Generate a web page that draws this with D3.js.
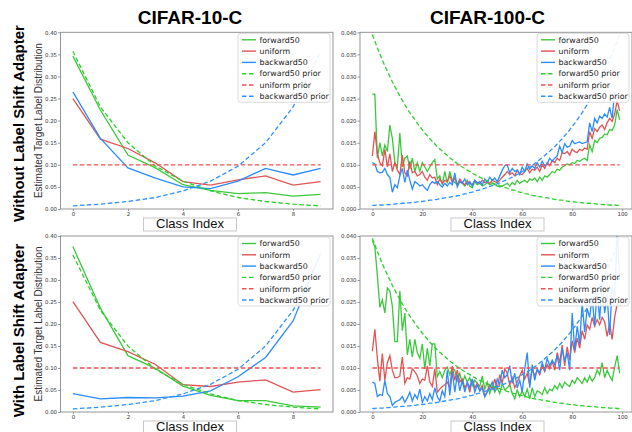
<!DOCTYPE html>
<html>
<head>
<meta charset="utf-8">
<script src="https://d3js.org/d3.v7.min.js"></script>
<style>
  body { margin: 0; background: #fff; }
  svg { display: block; }
</style>
</head>
<body>
<svg width="632" height="432"></svg>
<script>
// ---- data ----
const seriesNames = ["forward50", "uniform", "backward50", "forward50 prior", "uniform prior", "backward50 prior"];
const colTitles = ["CIFAR-10-C", "CIFAR-100-C"];
const rowTitles = ["Without Label Shift Adapter", "With Label Shift Adapter"];
const yTitle = "Estimated Target Label Distribution";
const xTitle = "Class Index";

const c10Classes = [0, 1, 2, 3, 4, 5, 6, 7, 8, 9];
const c10Ticks = [0, 2, 4, 6, 8];
const c10YTicks = [0, 0.05, 0.10, 0.15, 0.20, 0.25, 0.30, 0.35, 0.40];
const c100Ticks = [0, 20, 40, 60, 80, 100];
const c100YTicks = [0, 0.005, 0.010, 0.015, 0.020, 0.025, 0.030, 0.035, 0.040];

// CIFAR-10-C priors
const c10FwdPrior = [0.357, 0.231, 0.150, 0.097, 0.063, 0.041, 0.026, 0.017, 0.011, 0.007];
const c10UniPrior = [0.1, 0.1, 0.1, 0.1, 0.1, 0.1, 0.1, 0.1, 0.1, 0.1];
const c10BwdPrior = [0.007, 0.011, 0.017, 0.026, 0.041, 0.063, 0.097, 0.150, 0.231, 0.357];

// CIFAR-10-C estimates, without adapter
const c10NoFwd = [0.346, 0.224, 0.122, 0.093, 0.055, 0.042, 0.035, 0.037, 0.029, 0.033];
const c10NoUni = [0.250, 0.158, 0.137, 0.104, 0.062, 0.054, 0.066, 0.075, 0.054, 0.062];
const c10NoBwd = [0.265, 0.160, 0.093, 0.070, 0.050, 0.046, 0.063, 0.092, 0.077, 0.092];

// CIFAR-10-C estimates, with adapter
const c10AdFwd = [0.376, 0.236, 0.128, 0.099, 0.059, 0.038, 0.026, 0.026, 0.014, 0.011];
const c10AdUni = [0.251, 0.158, 0.137, 0.108, 0.062, 0.058, 0.068, 0.073, 0.045, 0.051];
const c10AdBwd = [0.042, 0.030, 0.033, 0.032, 0.036, 0.048, 0.080, 0.124, 0.207, 0.360];

// CIFAR-100-C class indices
const c100Classes = d3.range(100);

// CIFAR-100-C priors
const c100FwdPrior = [
  0.0395, 0.0380, 0.0365, 0.0351, 0.0337, 0.0324, 0.0312, 0.0300, 0.0288, 0.0277,
  0.0266, 0.0256, 0.0246, 0.0236, 0.0227, 0.0218, 0.0210, 0.0202, 0.0194, 0.0187,
  0.0179, 0.0172, 0.0166, 0.0159, 0.0153, 0.0147, 0.0141, 0.0136, 0.0131, 0.0126,
  0.0121, 0.0116, 0.0112, 0.0107, 0.0103, 0.0099, 0.0095, 0.0092, 0.0088, 0.0085,
  0.0081, 0.0078, 0.0075, 0.0072, 0.0069, 0.0067, 0.0064, 0.0062, 0.0059, 0.0057,
  0.0055, 0.0053, 0.0051, 0.0049, 0.0047, 0.0045, 0.0043, 0.0042, 0.0040, 0.0038,
  0.0037, 0.0035, 0.0034, 0.0033, 0.0031, 0.0030, 0.0029, 0.0028, 0.0027, 0.0026,
  0.0025, 0.0024, 0.0023, 0.0022, 0.0021, 0.0020, 0.0020, 0.0019, 0.0018, 0.0017,
  0.0017, 0.0016, 0.0015, 0.0015, 0.0014, 0.0014, 0.0013, 0.0013, 0.0012, 0.0012,
  0.0011, 0.0011, 0.0010, 0.0010, 0.0010, 0.0009, 0.0009, 0.0009, 0.0008, 0.0008];
const c100UniPrior = [
  0.01, 0.01, 0.01, 0.01, 0.01, 0.01, 0.01, 0.01, 0.01, 0.01,
  0.01, 0.01, 0.01, 0.01, 0.01, 0.01, 0.01, 0.01, 0.01, 0.01,
  0.01, 0.01, 0.01, 0.01, 0.01, 0.01, 0.01, 0.01, 0.01, 0.01,
  0.01, 0.01, 0.01, 0.01, 0.01, 0.01, 0.01, 0.01, 0.01, 0.01,
  0.01, 0.01, 0.01, 0.01, 0.01, 0.01, 0.01, 0.01, 0.01, 0.01,
  0.01, 0.01, 0.01, 0.01, 0.01, 0.01, 0.01, 0.01, 0.01, 0.01,
  0.01, 0.01, 0.01, 0.01, 0.01, 0.01, 0.01, 0.01, 0.01, 0.01,
  0.01, 0.01, 0.01, 0.01, 0.01, 0.01, 0.01, 0.01, 0.01, 0.01,
  0.01, 0.01, 0.01, 0.01, 0.01, 0.01, 0.01, 0.01, 0.01, 0.01,
  0.01, 0.01, 0.01, 0.01, 0.01, 0.01, 0.01, 0.01, 0.01, 0.01];
const c100BwdPrior = [
  0.0008, 0.0008, 0.0009, 0.0009, 0.0009, 0.0010, 0.0010, 0.0010, 0.0011, 0.0011,
  0.0012, 0.0012, 0.0013, 0.0013, 0.0014, 0.0014, 0.0015, 0.0015, 0.0016, 0.0017,
  0.0017, 0.0018, 0.0019, 0.0020, 0.0020, 0.0021, 0.0022, 0.0023, 0.0024, 0.0025,
  0.0026, 0.0027, 0.0028, 0.0029, 0.0030, 0.0031, 0.0033, 0.0034, 0.0035, 0.0037,
  0.0038, 0.0040, 0.0042, 0.0043, 0.0045, 0.0047, 0.0049, 0.0051, 0.0053, 0.0055,
  0.0057, 0.0059, 0.0062, 0.0064, 0.0067, 0.0069, 0.0072, 0.0075, 0.0078, 0.0081,
  0.0085, 0.0088, 0.0092, 0.0095, 0.0099, 0.0103, 0.0107, 0.0112, 0.0116, 0.0121,
  0.0126, 0.0131, 0.0136, 0.0141, 0.0147, 0.0153, 0.0159, 0.0166, 0.0172, 0.0179,
  0.0187, 0.0194, 0.0202, 0.0210, 0.0218, 0.0227, 0.0236, 0.0246, 0.0256, 0.0266,
  0.0277, 0.0288, 0.0300, 0.0312, 0.0324, 0.0337, 0.0351, 0.0365, 0.0380, 0.0395];

// CIFAR-100-C estimates, without adapter
const c100NoFwd = [
  0.026, 0.026, 0.0115, 0.015, 0.012, 0.0145, 0.013, 0.019, 0.016, 0.0105,
  0.0095, 0.0172, 0.0095, 0.0115, 0.012, 0.009, 0.0115, 0.0085, 0.0105, 0.0085,
  0.0105, 0.0095, 0.0085, 0.0095, 0.0105, 0.0112, 0.0068, 0.0075, 0.0055, 0.0085,
  0.0058, 0.0085, 0.0065, 0.006, 0.0055, 0.0063, 0.0058, 0.0052, 0.0065, 0.0052,
  0.0048, 0.0062, 0.0055, 0.0058, 0.0052, 0.0055, 0.006, 0.0055, 0.0058, 0.0055,
  0.0052, 0.005, 0.0052, 0.0055, 0.0058, 0.0052, 0.006, 0.0055, 0.0065, 0.0058,
  0.0062, 0.0065, 0.006, 0.0068, 0.0065, 0.007, 0.0062, 0.0072, 0.0065, 0.0075,
  0.0072, 0.0078, 0.0085, 0.0082, 0.009, 0.0088, 0.0095, 0.0098, 0.0102, 0.01,
  0.0105, 0.0103, 0.011, 0.0108, 0.0112, 0.0115, 0.011, 0.0145, 0.013, 0.0155,
  0.015, 0.016, 0.0162, 0.017, 0.0168, 0.018, 0.0178, 0.019, 0.0225, 0.0202];
const c100NoUni = [
  0.012, 0.0175, 0.0125, 0.0105, 0.0098, 0.0135, 0.0095, 0.0125, 0.0085, 0.0105,
  0.0088, 0.0078, 0.0122, 0.0082, 0.0075, 0.0108, 0.0082, 0.0085, 0.0075, 0.0078,
  0.0085, 0.0072, 0.0065, 0.0078, 0.007, 0.0072, 0.0055, 0.0068, 0.0058, 0.0065,
  0.0062, 0.0075, 0.006, 0.007, 0.0055, 0.0068, 0.006, 0.0055, 0.0062, 0.0058,
  0.0055, 0.0065, 0.006, 0.0058, 0.0065, 0.006, 0.0062, 0.0058, 0.0065, 0.0062,
  0.006, 0.0065, 0.0072, 0.0078, 0.0085, 0.0078, 0.0082, 0.0075, 0.0088, 0.008,
  0.0078, 0.0085, 0.0092, 0.0082, 0.009, 0.0088, 0.0095, 0.0085, 0.01, 0.0092,
  0.0105, 0.0098, 0.011, 0.0105, 0.0115, 0.011, 0.0128, 0.0125, 0.013, 0.0122,
  0.0135, 0.013, 0.0128, 0.0135, 0.0132, 0.0138, 0.0135, 0.0175, 0.016, 0.0182,
  0.0175, 0.0185, 0.019, 0.018, 0.0195, 0.0205, 0.0198, 0.0215, 0.0245, 0.0222];
const c100NoBwd = [
  0.0105, 0.0102, 0.0085, 0.0082, 0.0083, 0.0092, 0.0078, 0.0072, 0.0038, 0.0055,
  0.0048, 0.0075, 0.0092, 0.006, 0.0088, 0.0065, 0.0045, 0.0062, 0.0058, 0.0052,
  0.0055, 0.0048, 0.0042, 0.0055, 0.0062, 0.0058, 0.0062, 0.0055, 0.005, 0.0058,
  0.0052, 0.006, 0.0055, 0.0082, 0.005, 0.0062, 0.0058, 0.0068, 0.0055, 0.0062,
  0.0052, 0.0065, 0.0058, 0.0062, 0.0055, 0.0068, 0.006, 0.0072, 0.0065, 0.007,
  0.0062, 0.0075, 0.0088, 0.0098, 0.01, 0.0082, 0.0092, 0.0085, 0.0088, 0.0078,
  0.0095, 0.0085, 0.0102, 0.009, 0.0098, 0.0092, 0.0105, 0.0095, 0.0108, 0.0098,
  0.0102, 0.0115, 0.0108, 0.0115, 0.012, 0.0142, 0.0128, 0.0148, 0.014, 0.0142,
  0.0155, 0.0148, 0.015, 0.0152, 0.0148, 0.015, 0.0152, 0.0195, 0.0175, 0.0205,
  0.0195, 0.021, 0.0205, 0.0215, 0.0208, 0.023, 0.0205, 0.0265, 0.025, 0.0245];

// CIFAR-100-C estimates, with adapter
const c100AdFwd = [
  0.039, 0.0375, 0.031, 0.0238, 0.0255, 0.0225, 0.0282, 0.0275, 0.024, 0.016,
  0.016, 0.0275, 0.0185, 0.0225, 0.013, 0.0165, 0.0125, 0.0165, 0.0135, 0.0122,
  0.0155, 0.0098, 0.0145, 0.0105, 0.0155, 0.0155, 0.008, 0.0092, 0.0078, 0.0095,
  0.0102, 0.0085, 0.01, 0.0095, 0.0072, 0.0088, 0.0065, 0.0082, 0.0068, 0.0078,
  0.006, 0.0072, 0.0065, 0.0058, 0.0082, 0.0052, 0.0068, 0.0042, 0.006, 0.0045,
  0.0055, 0.0042, 0.0065, 0.005, 0.0055, 0.0062, 0.0042, 0.003, 0.005, 0.0035,
  0.0048, 0.0035, 0.0052, 0.003, 0.0055, 0.0035, 0.0048, 0.0045, 0.004, 0.0055,
  0.0042, 0.0052, 0.0048, 0.006, 0.0052, 0.0065, 0.0055, 0.0068, 0.0062, 0.0058,
  0.0072, 0.0065, 0.0078, 0.0072, 0.0065, 0.0078, 0.0068, 0.0082, 0.007, 0.0078,
  0.0095, 0.0085, 0.0112, 0.0078, 0.0095, 0.0082, 0.0072, 0.0102, 0.0128, 0.0088];
const c100AdUni = [
  0.0138, 0.0188, 0.0122, 0.007, 0.0133, 0.0072, 0.0112, 0.0128, 0.0095, 0.0078,
  0.0078, 0.0082, 0.0125, 0.0065, 0.0078, 0.0075, 0.0098, 0.0092, 0.0082, 0.0065,
  0.0075, 0.0072, 0.0105, 0.0068, 0.0058, 0.0098, 0.0045, 0.0052, 0.0058, 0.0062,
  0.0068, 0.0055, 0.0105, 0.0072, 0.0095, 0.0068, 0.0075, 0.0055, 0.0065, 0.0045,
  0.0075, 0.0055, 0.0065, 0.0048, 0.006, 0.0035, 0.0048, 0.0062, 0.0052, 0.0075,
  0.0052, 0.0085, 0.0065, 0.0098, 0.0088, 0.0062, 0.0078, 0.0055, 0.0068, 0.0082,
  0.0095, 0.0075, 0.0088, 0.0062, 0.0098, 0.0082, 0.0095, 0.0085, 0.0105, 0.0092,
  0.0108, 0.0098, 0.0115, 0.0095, 0.0135, 0.0112, 0.0152, 0.0105, 0.0148, 0.0118,
  0.0162, 0.0135, 0.0168, 0.0145, 0.0185, 0.0165, 0.0198, 0.0188, 0.0215, 0.0195,
  0.021, 0.0198, 0.0215, 0.0205, 0.0172, 0.0202, 0.0165, 0.0215, 0.0245, 0.025];
const c100AdBwd = [
  0.0068, 0.0065, 0.0035, 0.004, 0.0038, 0.0072, 0.0042, 0.0035, 0.0015, 0.0022,
  0.0025, 0.0028, 0.0035, 0.0022, 0.0032, 0.0045, 0.0025, 0.004, 0.003, 0.0052,
  0.0022, 0.0035, 0.0025, 0.0042, 0.0028, 0.0055, 0.0035, 0.0025, 0.0048, 0.0035,
  0.0095, 0.0038, 0.0092, 0.0045, 0.0085, 0.0048, 0.0072, 0.0045, 0.0068, 0.0055,
  0.0075, 0.0045, 0.0062, 0.0048, 0.0055, 0.0035, 0.0045, 0.0055, 0.0068, 0.005,
  0.0075, 0.0062, 0.0095, 0.0078, 0.0085, 0.0105, 0.0065, 0.0088, 0.0055, 0.0072,
  0.0045, 0.0098, 0.0135, 0.0055, 0.0108, 0.0072, 0.0098, 0.0088, 0.0112, 0.0095,
  0.0122, 0.0105, 0.0118, 0.0108, 0.0128, 0.0095, 0.0145, 0.0115, 0.0135, 0.0095,
  0.0225, 0.014, 0.0195, 0.0155, 0.0248, 0.0182, 0.0235, 0.0215, 0.0262, 0.0195,
  0.0275, 0.021, 0.0298, 0.0225, 0.0265, 0.0175, 0.0285, 0.0255, 0.0415, 0.03];

// ---- style ----
const solidColors = ["#3cc83c", "#e05454", "#2b8cff"];
const priorColors = ["#2ccf2c", "#ee5252", "#2e92ff"];

const svg = d3.select("svg");

const panels = [
  {x0: 60.5, x1: 333, y0: 32.3, y1: 209, xd: [-0.45, 9.45], yd: [0, 0.4], xt: c10Ticks, yt: c10YTicks, fmt: ".2f",
   cls: c10Classes, lines: [c10NoFwd, c10NoUni, c10NoBwd], priors: [c10FwdPrior, c10UniPrior, c10BwdPrior], ytitle: true},
  {x0: 360, x1: 632, y0: 32.3, y1: 209, xd: [-4.95, 103.95], yd: [0, 0.04], xt: c100Ticks, yt: c100YTicks, fmt: ".3f",
   cls: c100Classes, lines: [c100NoFwd, c100NoUni, c100NoBwd], priors: [c100FwdPrior, c100UniPrior, c100BwdPrior], ytitle: false},
  {x0: 60.5, x1: 333, y0: 236, y1: 412, xd: [-0.45, 9.45], yd: [0, 0.4], xt: c10Ticks, yt: c10YTicks, fmt: ".2f",
   cls: c10Classes, lines: [c10AdFwd, c10AdUni, c10AdBwd], priors: [c10FwdPrior, c10UniPrior, c10BwdPrior], ytitle: true},
  {x0: 360, x1: 632, y0: 236, y1: 412, xd: [-4.95, 103.95], yd: [0, 0.04], xt: c100Ticks, yt: c100YTicks, fmt: ".3f",
   cls: c100Classes, lines: [c100AdFwd, c100AdUni, c100AdBwd], priors: [c100FwdPrior, c100UniPrior, c100BwdPrior], ytitle: false}
];

panels.forEach((p, i) => {
  const x = d3.scaleLinear().domain(p.xd).range([p.x0, p.x1]);
  const y = d3.scaleLinear().domain(p.yd).range([p.y1, p.y0]);
  const g = svg.append("g");

  const clipId = "clip" + i;
  svg.append("clipPath").attr("id", clipId)
    .append("rect").attr("x", p.x0).attr("y", p.y0).attr("width", p.x1 - p.x0).attr("height", p.y1 - p.y0);

  // axes
  const xa = g.append("g").attr("transform", `translate(0,${p.y1})`)
    .call(d3.axisBottom(x).tickValues(p.xt).tickSize(2).tickPadding(1).tickFormat(d3.format("d")));
  const ya = g.append("g").attr("transform", `translate(${p.x0},0)`)
    .call(d3.axisLeft(y).tickValues(p.yt).tickSize(2.5).tickPadding(1).tickFormat(d3.format(p.fmt)));
  [xa, ya].forEach(a => {
    a.select(".domain").remove();
    a.selectAll("line").attr("stroke", "#555").attr("stroke-width", 0.6);
    a.selectAll("text").attr("fill", "#333").style("font-family", "DejaVu Sans").style("font-size", "5.4px");
  });

  const plot = g.append("g").attr("clip-path", `url(#${clipId})`);
  const line = d3.line().x((d, k) => x(p.cls[k])).y(d => y(d));

  p.lines.forEach((vals, k) => {
    plot.append("path").datum(vals).attr("d", line)
      .attr("fill", "none").attr("stroke", solidColors[k]).attr("stroke-width", 1.3);
  });
  p.priors.forEach((vals, k) => {
    plot.append("path").datum(vals).attr("d", line)
      .attr("fill", "none").attr("stroke", priorColors[k]).attr("stroke-width", 1.3)
      .attr("stroke-dasharray", "4.5 2.5");
  });

  // frame
  g.append("rect").attr("x", p.x0).attr("y", p.y0).attr("width", p.x1 - p.x0).attr("height", p.y1 - p.y0)
    .attr("fill", "none").attr("stroke", "#8a8a8a").attr("stroke-width", 0.9);

  // legend
  const lx = p.x1 - 95, ly = p.y0 + 1;
  const lg = g.append("g").attr("transform", `translate(${lx},${ly})`);
  lg.append("rect").attr("width", 92).attr("height", 69).attr("rx", 3)
    .attr("fill", "#fff").attr("fill-opacity", 0.9).attr("stroke", "#d0d0d0").attr("stroke-width", 0.8);
  seriesNames.forEach((name, k) => {
    const yy = 6.5 + k * 11.3;
    lg.append("line").attr("x1", 4).attr("x2", 18).attr("y1", yy).attr("y2", yy)
      .attr("stroke", k < 3 ? solidColors[k] : priorColors[k - 3]).attr("stroke-width", 1.4)
      .attr("stroke-dasharray", k < 3 ? null : "4.5 2.5");
    lg.append("text").attr("x", 21.5).attr("y", yy + 2.8).text(name)
      .style("font-family", "DejaVu Sans").style("font-size", "7.9px").attr("fill", "#222");
  });

  // x title box
  const cx = i % 2 === 0 ? 190 : 497.5;
  const by = p.y1 + 9;
  g.append("rect").attr("x", cx - 46.5).attr("y", by).attr("width", 93).attr("height", 13)
    .attr("fill", "#fff").attr("stroke", "#bbb").attr("stroke-width", 0.8);
  g.append("text").attr("x", cx).attr("y", by + 10.4).attr("text-anchor", "middle").text(xTitle)
    .style("font-family", "Liberation Sans").style("font-size", "13px").attr("fill", "#111");

  if (p.ytitle) {
    g.append("text").attr("transform", `translate(42,${(p.y0 + p.y1) / 2}) rotate(-90)`)
      .attr("text-anchor", "middle").text(yTitle)
      .style("font-family", "Liberation Sans").style("font-size", "10px").attr("fill", "#333");
  }
});

// column titles
[190, 487.5].forEach((cx, i) => {
  svg.append("text").attr("x", cx).attr("y", 24).attr("text-anchor", "middle").text(colTitles[i])
    .style("font-family", "Liberation Sans").style("font-weight", "bold").style("font-size", "19px");
});

// row titles
[123.5, 330.5].forEach((cy, i) => {
  svg.append("text").attr("transform", `translate(24,${cy}) rotate(-90)`)
    .attr("text-anchor", "middle").text(rowTitles[i])
    .style("font-family", "Liberation Sans").style("font-weight", "bold").style("font-size", "15px");
});
</script>
</body>
</html>
